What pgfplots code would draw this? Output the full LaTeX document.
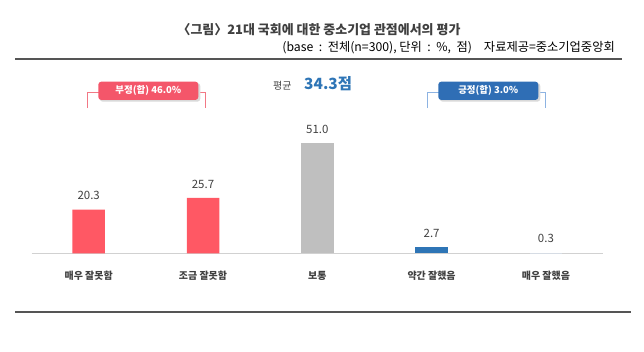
\documentclass[border=0pt]{standalone}
\usepackage{fontspec}
\setmainfont{Noto Sans CJK KR}
\usepackage{pgfplots}
\pgfplotsset{compat=1.18}
\definecolor{redbar}{HTML}{FF5864}
\definecolor{graybar}{HTML}{BFBFBF}
\definecolor{bluebar}{HTML}{2E75B6}
\definecolor{lightbar}{HTML}{D6DCE4}
\definecolor{linegray}{HTML}{555555}
\definecolor{txtgray}{HTML}{404040}
\definecolor{redbox}{HTML}{F4566A}
\definecolor{redline}{HTML}{F27885}
\definecolor{bluebox}{HTML}{2F6EB5}
\definecolor{blueline}{HTML}{8DB3E2}
\begin{document}
\begin{tikzpicture}[x=1bp,y=1bp]
\path[use as bounding box] (0,0) rectangle (644,351);
\node[font=\bfseries\fontsize{13}{15}\selectfont, text=txtgray] at (319,321) {〈그림〉21대 국회에 대한 중소기업 관점에서의 평가};
\node[anchor=east, font=\fontsize{12.3}{14}\selectfont, text=black, inner sep=0pt] at (615,303) {(base\ \ :\ \ 전체(n=300),\ 단위\ \ :\ \ \%,\ \ 점)\hspace{12bp}자료제공=중소기업중앙회};
\draw[line width=2.2bp, color=linegray] (15,292) -- (622,292);
\draw[line width=2.2bp, color=linegray] (15,39) -- (631,39);
% brackets
\draw[redline, line width=0.9bp] (87.3,243) -- (87.3,258.7) -- (205.7,258.7) -- (205.7,243);
\draw[blueline, line width=0.9bp] (427.3,243) -- (427.3,258.7) -- (545.7,258.7) -- (545.7,243);
\fill[black!15, rounded corners=3bp] (99.8,249.3) rectangle (200.3,268);
\fill[black!15, rounded corners=3bp] (439.8,249.3) rectangle (540.3,268);
\node[fill=redbox, rounded corners=3bp, minimum width=100bp, minimum height=18.3bp, inner sep=0pt, text=white, font=\bfseries\fontsize{9.5}{11}\selectfont] at (148.3,260.2) {부정(합) 46.0\%};
\node[fill=bluebox, rounded corners=3bp, minimum width=100bp, minimum height=18.3bp, inner sep=0pt, text=white, font=\bfseries\fontsize{9.5}{11}\selectfont] at (488.3,260.2) {긍정(합) 3.0\%};
% average
\node[anchor=base west, inner sep=0pt, text=txtgray, font=\fontsize{10}{12}\selectfont] at (273,262) {평균};
\node[anchor=base west, inner sep=0pt, text=bluebar, font=\bfseries\fontsize{15.5}{18}\selectfont] at (304,262) {34.3점};
\begin{axis}[
  at={(31.55bp,97.7bp)}, anchor=south west,
  scale only axis, width=571.5bp, height=110bp,
  xmin=-0.5, xmax=4.5, ymin=0, ymax=51,
  clip=false,
  axis y line=none,
  axis x line*=bottom,
  x axis line style={draw=black!18, line width=0.8bp, -},
  xtick={0,1,2,3,4},
  xticklabels={매우 잘못함, 조금 잘못함, 보통, 약간 잘했음, 매우 잘했음},
  major tick length=0pt,
  xticklabel style={font=\bfseries\fontsize{10}{12}\selectfont, text=txtgray, yshift=-14bp},
  ybar, bar width=32.5bp, bar shift=0pt,
  /pgf/number format/assume math mode=true,
  nodes near coords={\pgfmathprintnumber[fixed,fixed zerofill,precision=1]{\pgfplotspointmeta}},
  every node near coord/.append style={font=\fontsize{11.5}{13}\selectfont, text=txtgray, anchor=south, yshift=6bp},
]
\addplot[fill=redbar, draw=none] coordinates {(0,20.3) (1,25.7)};
\addplot[fill=graybar, draw=none] coordinates {(2,51.0)};
\addplot[fill=bluebar, draw=none] coordinates {(3,2.7)};
\addplot[fill=lightbar, draw=none] coordinates {(4,0.3)};
\end{axis}
\end{tikzpicture}
\end{document}
